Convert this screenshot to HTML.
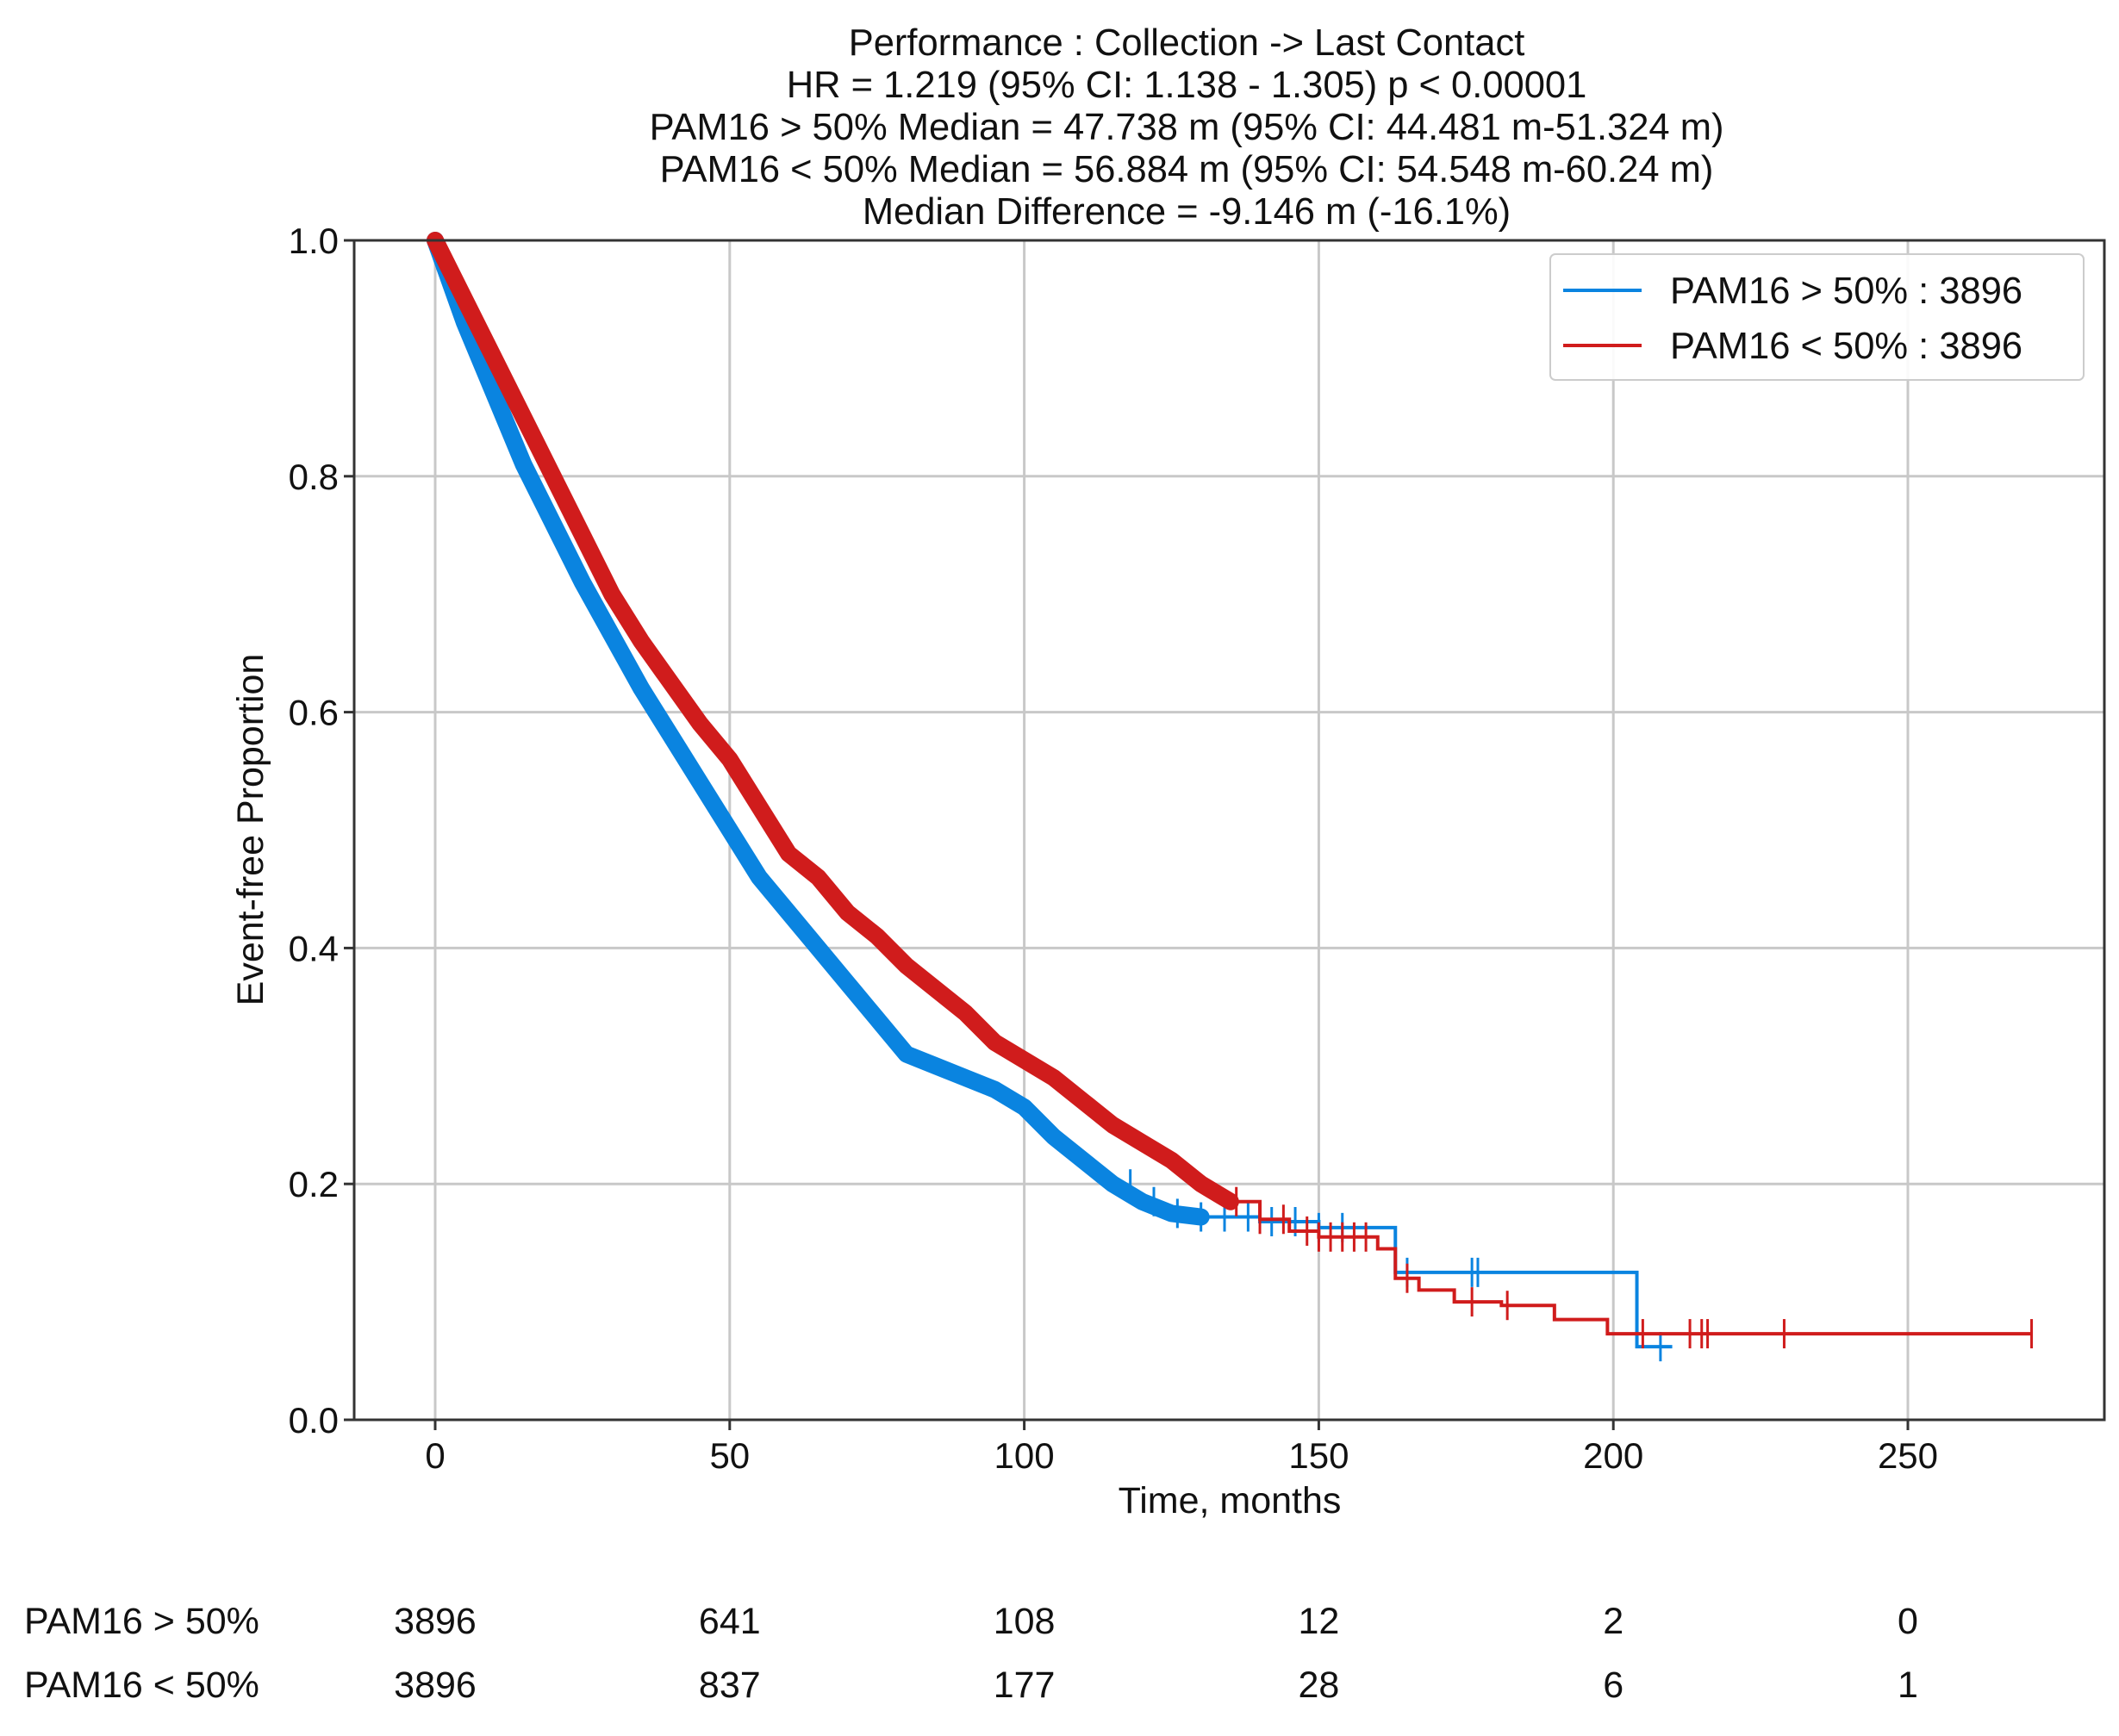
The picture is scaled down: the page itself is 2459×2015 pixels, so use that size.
<!DOCTYPE html>
<html><head><meta charset="utf-8"><style>
html,body{margin:0;padding:0;background:#fff}
svg{display:block;font-family:"Liberation Sans",Arial,sans-serif}
</style></head><body>
<svg id="chart" width="2459" height="2015" viewBox="0 0 2459 2015" xmlns="http://www.w3.org/2000/svg">
<g font-size="43.5" fill="#111" text-anchor="middle">
<text x="1377" y="64">Performance : Collection -&gt; Last Contact</text>
<text x="1377" y="113">HR = 1.219 (95% CI: 1.138 - 1.305) p &lt; 0.00001</text>
<text x="1377" y="162">PAM16 &gt; 50% Median = 47.738 m (95% CI: 44.481 m-51.324 m)</text>
<text x="1377" y="211">PAM16 &lt; 50% Median = 56.884 m (95% CI: 54.548 m-60.24 m)</text>
<text x="1377" y="260">Median Difference = -9.146 m (-16.1%)</text>
</g>
<g id="grid"></g>
<g id="series"></g>
<rect x="411" y="279" width="2031" height="1369" fill="none" stroke="#333" stroke-width="3"/>
<g id="ticks" font-size="42" fill="#111"></g>
<text x="1427" y="1756" font-size="43" text-anchor="middle" fill="#111">Time, months</text>
<text transform="translate(305,963) rotate(-90)" font-size="43" text-anchor="middle" fill="#111">Event-free Proportion</text>
<g>
<rect x="1799" y="295" width="619" height="146" rx="6" fill="#fff" fill-opacity="0.9" stroke="#ccc" stroke-width="2"/>
<line x1="1814" y1="337" x2="1905" y2="337" stroke="#0a84e0" stroke-width="4"/>
<text x="1938" y="352" font-size="43.5" fill="#111">PAM16 &gt; 50% : 3896</text>
<line x1="1814" y1="401" x2="1905" y2="401" stroke="#d01c1c" stroke-width="4"/>
<text x="1938" y="416" font-size="43.5" fill="#111">PAM16 &lt; 50% : 3896</text>
</g>
<g id="risk" font-size="43" fill="#111"></g>
</svg>
<script>
const xTicks=[0,50,100,150,200,250];
const yTicks=[0,0.2,0.4,0.6,0.8,1.0];
const highT=[0,5,10,15,20,25,30,35,40,45,50,55,60,65,70,75,80,85,90,95,100,105,110,115,120,125,130,140,150,162,163,203,204,210];
const highS=[1.0,0.93,0.87,0.81,0.76,0.71,0.665,0.62,0.58,0.54,0.5,0.46,0.43,0.40,0.37,0.34,0.31,0.30,0.29,0.28,0.265,0.24,0.22,0.20,0.185,0.175,0.172,0.168,0.163,0.163,0.125,0.125,0.062,0.062];
const lowT=[0,5,10,15,20,25,30,35,40,45,50,55,60,65,70,75,80,85,90,95,100,105,110,115,120,125,130,135,140,145,150,160,163,167,173,181,190,199,271];
const lowS=[1.0,0.95,0.9,0.85,0.8,0.75,0.7,0.66,0.625,0.59,0.56,0.52,0.48,0.46,0.43,0.41,0.385,0.365,0.345,0.32,0.305,0.29,0.27,0.25,0.235,0.22,0.2,0.185,0.17,0.16,0.155,0.145,0.12,0.11,0.1,0.097,0.085,0.073,0.073];
const highCens=[118,122,126,130,134,138,142,146,150,154,165,176,177,208];
const lowCens=[136,140,144,148,150,152,154,156,158,165,176,182,205,213,215,216,229,271];
const riskHigh=[3896,641,108,12,2,0];
const riskLow=[3896,837,177,28,6,1];
const X=t=>505+t*6.836, Y=s=>1648-s*1369;
const NS='http://www.w3.org/2000/svg';
function mk(tag,attrs,parent){const e=document.createElementNS(NS,tag);for(const k in attrs)e.setAttribute(k,attrs[k]);parent.appendChild(e);return e;}
const grid=document.getElementById('grid'),ticks=document.getElementById('ticks'),series=document.getElementById('series'),risk=document.getElementById('risk');
xTicks.forEach(v=>{
 const g=mk('line',{x1:X(v),x2:X(v),y1:279,y2:1648,stroke:'#c8c8c8','stroke-width':3},grid);
 
 
 const tk=mk('line',{x1:X(v),x2:X(v),y1:1648,y2:1660,stroke:'#333','stroke-width':3},ticks);
 
 
 const t=mk('text',{x:X(v),y:1704,'text-anchor':'middle'},ticks);t.textContent=v;
 
 
});
yTicks.forEach(v=>{
 const g=mk('line',{x1:411,x2:2442,y1:Y(v),y2:Y(v),stroke:'#c8c8c8','stroke-width':3},grid);
 
 
 const tk=mk('line',{x1:399,x2:411,y1:Y(v),y2:Y(v),stroke:'#333','stroke-width':3},ticks);
 
 
 const t=mk('text',{x:393,y:Y(v)+15,'text-anchor':'end'},ticks);t.textContent=v.toFixed(1);
 
 
});
function linePath(T,S,maxT){let d='M'+X(T[0])+' '+Y(S[0]);for(let i=1;i<T.length;i++){if(T[i]>maxT)break;d+=' L'+X(T[i])+' '+Y(S[i]);}return d;}
function stepPath(T,S,minT){let d='';let started=false;for(let i=0;i<T.length;i++){if(T[i]<minT)continue;if(!started){d='M'+X(T[i])+' '+Y(S[i]);started=true;}else d+=' H'+X(T[i])+' V'+Y(S[i]);}return d;}
function survAt(T,S,t){let s=S[0];for(let i=0;i<T.length;i++){if(T[i]<=t)s=S[i];}return s;}
function drawSeries(T,S,C,col,name,cut){
 const band=mk('path',{d:linePath(T,S,cut),fill:'none',stroke:col,'stroke-width':20,'stroke-linejoin':'round','stroke-linecap':'round'},series);
 
 
 const p=mk('path',{d:stepPath(T,S,cut),fill:'none',stroke:col,'stroke-width':4},series);
 
 
 C.forEach(t=>{const y=Y(survAt(T,S,t));
  const m=mk('line',{x1:X(t),x2:X(t),y1:y-17,y2:y+17,stroke:col,'stroke-width':3},series);
  
  });
}
drawSeries(highT,highS,highCens,'#0a84e0','high-group',130);
drawSeries(lowT,lowS,lowCens,'#d01c1c','low-group',135);
[['PAM16 > 50%',riskHigh,1896],['PAM16 < 50%',riskLow,1970]].forEach(([lab,arr,y])=>{
 const l=mk('text',{x:28,y:y},risk);l.textContent=lab;
 
 
 arr.forEach((v,i)=>{const t=mk('text',{x:X(xTicks[i]),y:y,'text-anchor':'middle'},risk);t.textContent=v;
  
  });
});
</script>
</body></html>
